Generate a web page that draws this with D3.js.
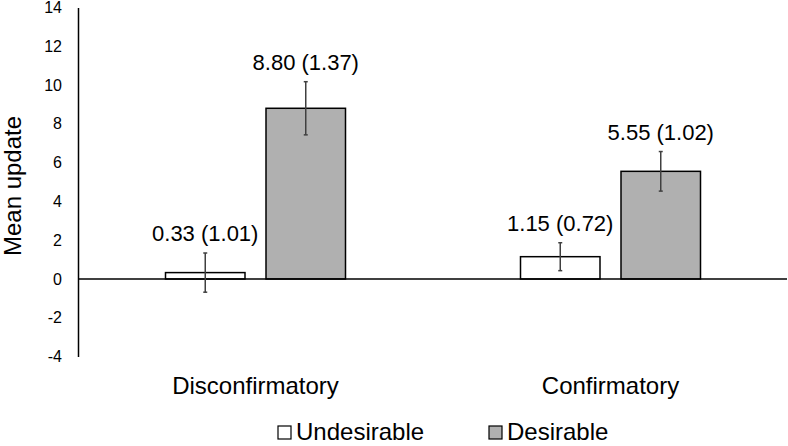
<!DOCTYPE html>
<html>
<head>
<meta charset="utf-8">
<script src="https://cdn.jsdelivr.net/npm/d3@7"></script>
<style>
  body { margin: 0; background: #fff; }
  svg { display: block; font-family: "Liberation Sans", Arial, sans-serif; }
</style>
</head>
<body>
<svg id="chart" width="788" height="446"></svg>
<script>
var categories = ["Disconfirmatory", "Confirmatory"];
var series = ["Undesirable", "Desirable"];
var undesirable = [0.33, 1.15];
var undesirableErr = [1.01, 0.72];
var desirable = [8.80, 5.55];
var desirableErr = [1.37, 1.02];
var yTicks = [-4, -2, 0, 2, 4, 6, 8, 10, 12, 14];
var fills = ["#ffffff", "#b0b0b0"];

var svg = d3.select("#chart");

var y = d3.scaleLinear()
    .domain([-4, 14])
    .range([356.6, 7.4]);

var x0 = d3.scaleBand()
    .domain(categories)
    .range([78, 788]);

// bars sit in the middle 180px of each category band
var groupW = 180;
var x1 = d3.scaleBand()
    .domain(series)
    .range([0, groupW])
    .paddingInner(0.209);

var rows = [];
categories.forEach(function(c, i) {
    rows.push({cat: c, s: series[0], v: undesirable[i], e: undesirableErr[i]});
    rows.push({cat: c, s: series[1], v: desirable[i], e: desirableErr[i]});
});

var barX = function(d) {
    return x0(d.cat) + (x0.bandwidth() - groupW) / 2 + x1(d.s);
};

// y axis (plain hyphen for negatives, like the original)
var yAxis = d3.axisLeft(y)
    .tickValues(yTicks)
    .tickFormat(function(d) { return String(d); })
    .tickSize(0)
    .tickPadding(16);
var ga = svg.append("g")
    .attr("transform", "translate(78,0)")
    .call(yAxis);
ga.select(".domain").attr("stroke", "#000").attr("stroke-width", 1.5);
ga.selectAll("text")
    .attr("font-size", 16)
    .attr("fill", "#000")
    .attr("font-family", "Liberation Sans, Arial, sans-serif");

svg.append("text")
    .attr("transform", "translate(21,186)rotate(-90)")
    .attr("text-anchor", "middle")
    .attr("font-size", 24)
    .text("Mean update");

// bars
svg.selectAll("rect.bar")
    .data(rows)
    .enter().append("rect")
    .attr("class", "bar")
    .attr("x", barX)
    .attr("width", x1.bandwidth())
    .attr("y", function(d) { return y(Math.max(0, d.v)); })
    .attr("height", function(d) { return Math.abs(y(d.v) - y(0)); })
    .attr("fill", function(d) { return fills[series.indexOf(d.s)]; })
    .attr("stroke", "#000")
    .attr("stroke-width", 1.5);

// zero line
svg.append("line")
    .attr("x1", 78).attr("x2", 787)
    .attr("y1", y(0)).attr("y2", y(0))
    .attr("stroke", "#000")
    .attr("stroke-width", 1.5);

// error bars
var err = svg.selectAll("g.err")
    .data(rows)
    .enter().append("g")
    .attr("class", "err")
    .attr("stroke", "#404040")
    .attr("stroke-width", 1.5);
err.append("line")
    .attr("x1", function(d) { return barX(d) + x1.bandwidth() / 2; })
    .attr("x2", function(d) { return barX(d) + x1.bandwidth() / 2; })
    .attr("y1", function(d) { return y(d.v + d.e); })
    .attr("y2", function(d) { return y(d.v - d.e); });
err.selectAll("line.cap")
    .data(function(d) { return [d.v + d.e, d.v - d.e].map(function(v) { return {d: d, v: v}; }); })
    .enter().append("line")
    .attr("class", "cap")
    .attr("x1", function(c) { return barX(c.d) + x1.bandwidth() / 2 - 2; })
    .attr("x2", function(c) { return barX(c.d) + x1.bandwidth() / 2 + 2; })
    .attr("y1", function(c) { return y(c.v); })
    .attr("y2", function(c) { return y(c.v); });

// value labels
svg.selectAll("text.val")
    .data(rows)
    .enter().append("text")
    .attr("class", "val")
    .attr("x", function(d) { return barX(d) + x1.bandwidth() / 2; })
    .attr("y", function(d) { return y(d.v + d.e) - 12; })
    .attr("text-anchor", "middle")
    .attr("font-size", 22)
    .text(function(d) { return d.v.toFixed(2) + " (" + d.e.toFixed(2) + ")"; });

// category labels
svg.selectAll("text.cat")
    .data(categories)
    .enter().append("text")
    .attr("class", "cat")
    .attr("x", function(c) { return x0(c) + x0.bandwidth() / 2; })
    .attr("y", 394)
    .attr("text-anchor", "middle")
    .attr("font-size", 24)
    .text(function(c) { return c; });

// legend
var legX = [278, 489];
var leg = svg.selectAll("g.leg")
    .data(series)
    .enter().append("g")
    .attr("class", "leg")
    .attr("transform", function(s, i) { return "translate(" + legX[i] + ",0)"; });
leg.append("rect")
    .attr("x", 0).attr("y", 426)
    .attr("width", 13).attr("height", 13)
    .attr("fill", function(s, i) { return fills[i]; })
    .attr("stroke", "#000")
    .attr("stroke-width", 1.2);
leg.append("text")
    .attr("x", 18)
    .attr("y", 440)
    .attr("font-size", 24)
    .text(function(s) { return s; });
</script>
</body>
</html>
